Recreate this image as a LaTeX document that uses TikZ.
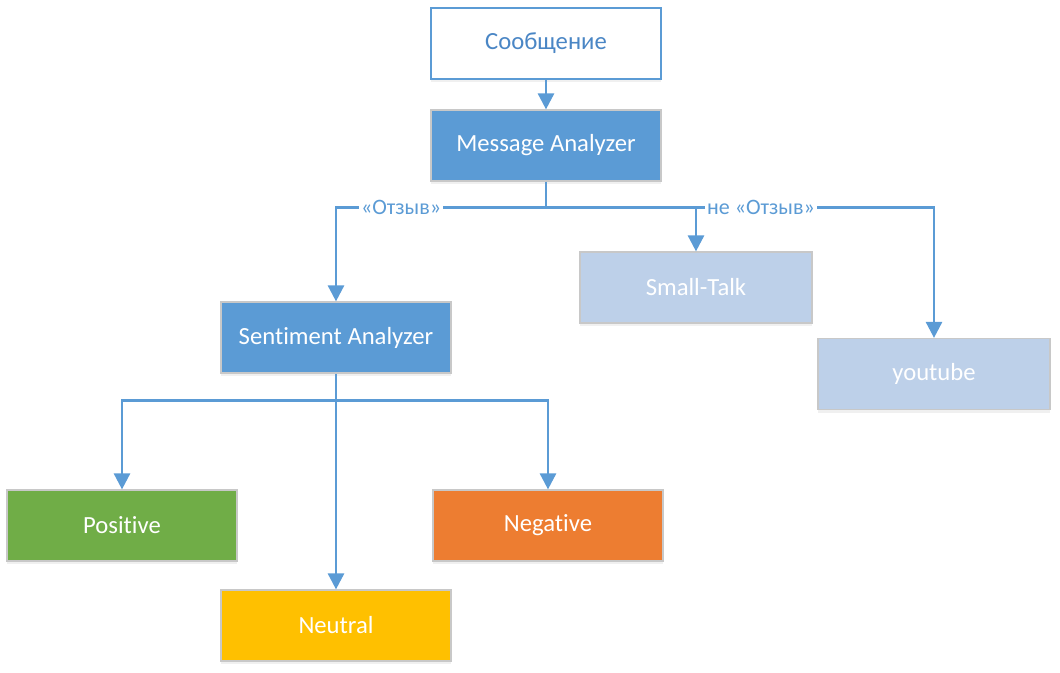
\documentclass[tikz,border=0pt]{standalone}
\usepackage{fontspec}
\setmainfont{Carlito}[Ligatures=NoCommon]
\usetikzlibrary{arrows.meta,shadows}
\definecolor{lineblue}{HTML}{5B9BD5}
\definecolor{textblue}{HTML}{4A86C5}
\definecolor{paleblue}{HTML}{BDD0E9}
\definecolor{posgreen}{HTML}{70AD47}
\definecolor{negorange}{HTML}{ED7D31}
\definecolor{neuyellow}{HTML}{FFC000}
\definecolor{rimgray}{HTML}{C8C8C8}

\begin{document}
\begin{tikzpicture}[x=0.75pt, y=-0.75pt,
    box/.style={rectangle, minimum width=172.5pt, minimum height=53.25pt, inner sep=0pt,
        draw=rimgray, line width=0.9pt, text=white, font=\fontsize{18.5}{22}\selectfont,
        drop shadow={shadow xshift=0pt, shadow yshift=-2.5pt, opacity=0.12}},
    flow/.style={draw=lineblue, line width=2pt, -{Triangle[length=12pt, width=12pt]}},
    lbl/.style={fill=white, text=lineblue, inner sep=1.5pt, font=\fontsize{16.5}{19}\selectfont}]
\useasboundingbox (0,0) rectangle (1060,672);
\node[box, fill=white, draw=lineblue, line width=1.4pt, text=textblue] (msg) at (546,43.5) {Сообщение};
\node[box, fill=lineblue] (ma) at (546,145.5) {Message Analyzer};
\node[box, fill=lineblue] (sa) at (336,337.5) {Sentiment Analyzer};
\node[box, fill=paleblue, minimum width=174pt] (st) at (696,287.5) {Small-Talk};
\node[box, fill=paleblue, minimum width=174pt] (yt) at (934,374) {youtube};
\node[box, fill=posgreen] (pos) at (122,525.5) {Positive};
\node[box, fill=negorange] (neg) at (548,525.5) {Negative};
\node[box, fill=neuyellow] (neu) at (336,625.5) {Neutral};
% message analyzer branches
\path (ma.south) ++(0,26) coordinate (fork1);
\path (st.north |- fork1) coordinate (fork1st);
\draw[flow] (msg) -- (ma);
\draw[draw=lineblue, line width=2pt] (ma.south) -- (fork1);
\draw[flow] (fork1) -| node[lbl, pos=0.345] {«Отзыв»} (sa.north);
\draw[flow] (fork1) -| node[lbl, pos=0.277] {не «Отзыв»} (yt.north);
\draw[flow] (fork1st) -- (st.north);
% sentiment analyzer branches
\path (sa.south) ++(0,27) coordinate (fork2);
\draw[flow] (sa) -- (neu);
\draw[flow] (fork2) -| (pos.north);
\draw[flow] (fork2) -| (neg.north);
\end{tikzpicture}
\end{document}
